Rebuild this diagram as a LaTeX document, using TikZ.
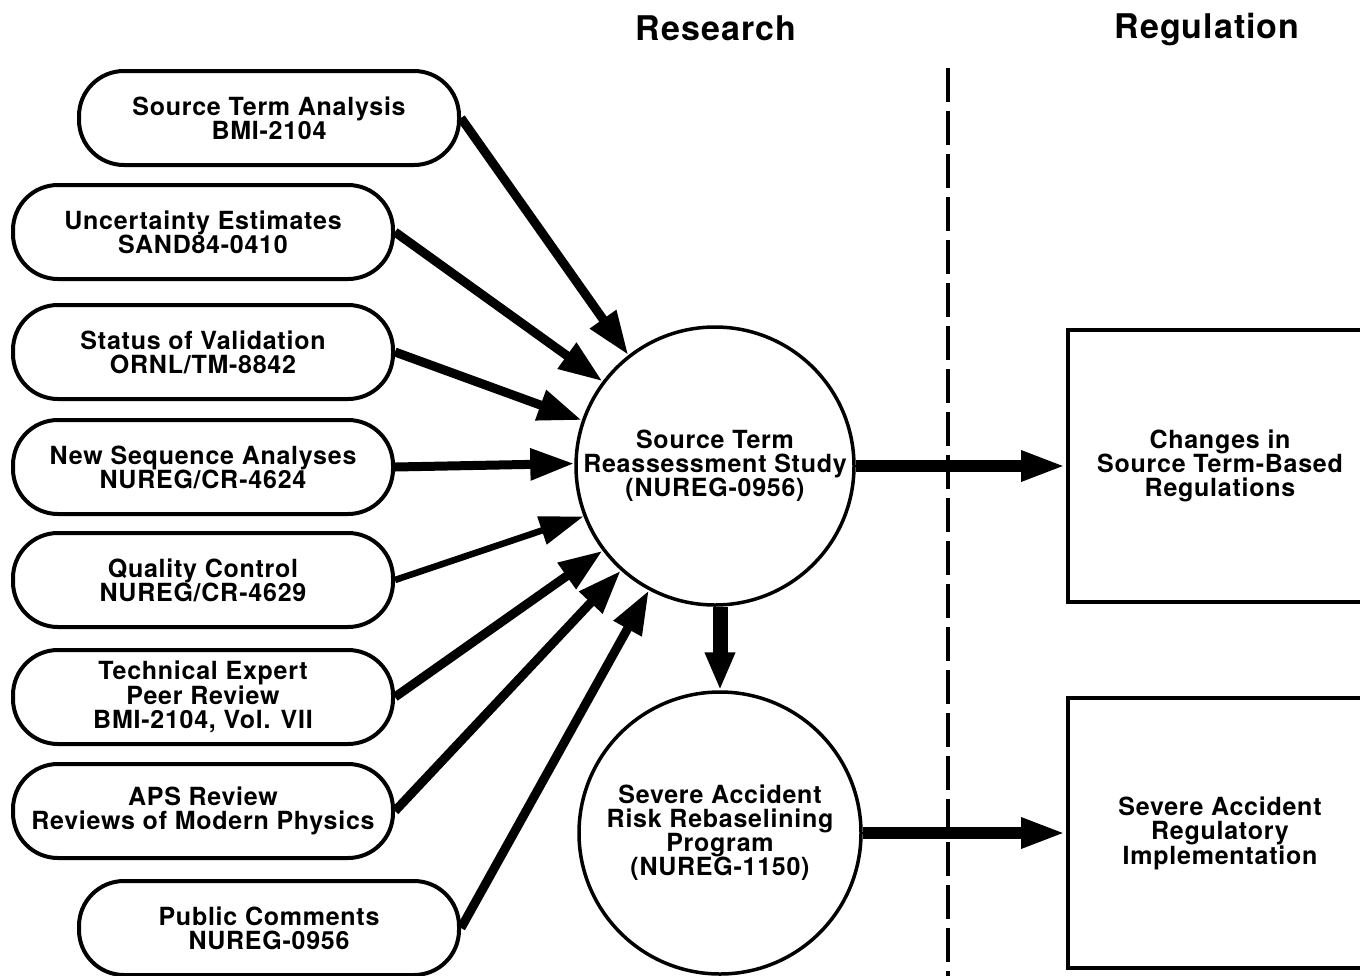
\documentclass[tikz,border=0pt]{standalone}
\usepackage{fontspec}
\setmainfont{TeX Gyre Heros}[LetterSpace=3]
\usetikzlibrary{arrows.meta}
\begin{document}
\begin{tikzpicture}[x=1pt,y=-1pt,
  txt/.style={font=\bfseries\fontsize{25}{24}\selectfont,align=center},
  pill/.style={txt,draw,line width=4pt,rounded corners=45pt,minimum width=380pt,minimum height=94pt,inner sep=0pt},
  circ/.style={txt,draw,circle,line width=3.5pt,inner sep=0pt},
  regbox/.style={txt,draw,line width=4pt,minimum width=304pt,inner sep=0pt},
  head/.style={font=\bfseries\fontsize{34}{34}\selectfont},
  inarr/.style={line width=9pt,-{Triangle[length=44pt,width=30pt]}},
  thinarr/.style={line width=6.5pt,-{Triangle[length=44pt,width=28pt]}},
  outarr/.style={line width=12pt,-{Triangle[length=45pt,width=28pt]}},
  downarr/.style={line width=15pt,-{Triangle[length=38pt,width=28pt]}},
  divider/.style={line width=3.5pt,dash pattern=on 34pt off 9pt}]
\clip (0,0) rectangle (1360,975);
\fill[white] (0,0) rectangle (1360,975);

\node[head] (hres) at (716,28) {Research};
\node[head] (hreg) at (1207,30) {Regulation};

\coordinate (dtop) at (948,68);
\coordinate (dbot) at (948,978);
\draw[divider] (dtop) -- (dbot);

\node[pill] (p1) at (269,118) {Source Term Analysis\\BMI-2104};
\node[pill] (p2) at (203,232) {Uncertainty Estimates\\SAND84-0410};
\node[pill] (p3) at (203,352) {Status of Validation\\ORNL/TM-8842};
\node[pill] (p4) at (203,467) {New Sequence Analyses\\NUREG/CR-4624};
\node[pill] (p5) at (203,580) {Quality Control\\NUREG/CR-4629};
\node[pill] (p6) at (203,697) {Technical Expert\\Peer Review\\BMI-2104, Vol. VII};
\node[pill] (p7) at (203,811) {APS Review\\Reviews of Modern Physics};
\node[pill] (p8) at (269,928) {Public Comments\\NUREG-0956};

\node[circ,minimum size=278pt] (c1) at (715,466) {Source Term\\Reassessment Study\\(NUREG-0956)};
\node[circ,minimum size=282pt] (c2) at (720,833) {Severe Accident\\Risk Rebaselining\\Program\\(NUREG-1150)};

\node[regbox,minimum height=272pt] (b1) at (1220,466) {Changes in\\Source Term-Based\\Regulations};
\node[regbox,minimum height=270pt] (b2) at (1220,833) {Severe Accident\\Regulatory\\Implementation};

\draw[inarr] (p1.east) -- (c1.128);
\draw[inarr] (p2.east) -- (c1.143);
\draw[inarr] (p3.east) -- (c1.161);
\draw[inarr] (p4.east) -- (c1.179);
\draw[thinarr] (p5.east) -- (c1.201);
\draw[inarr] (p6.east) -- (c1.217);
\draw[inarr] (p7.east) -- (c1.228);
\draw[inarr] (p8.east) -- (c1.242);

\draw[outarr] (c1.east) -- (b1.west);
\draw[outarr] (c2.east) -- (b2.west);
\draw[downarr] (c1.south -| c2.north) -- (c2.north);
\end{tikzpicture}
\end{document}
